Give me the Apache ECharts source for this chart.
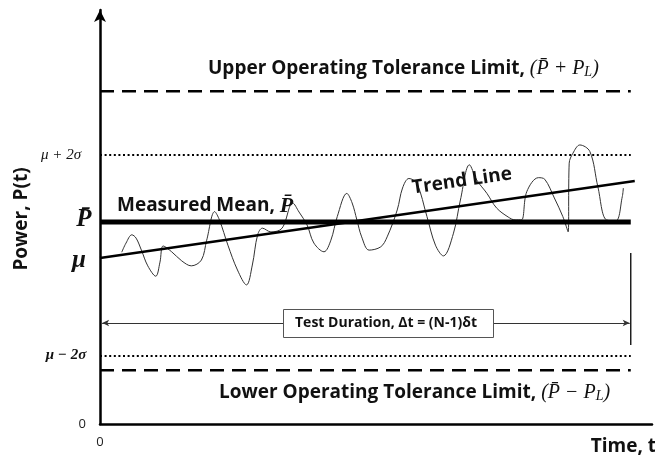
<!DOCTYPE html>
<html><head><meta charset="utf-8">
<script src="https://cdn.jsdelivr.net/npm/echarts@6/dist/echarts.min.js"></script>
<style>html,body{margin:0;padding:0;background:#fff}#c{width:655px;height:457px}</style>
</head><body><div id="c"></div>
<script>
// Time (arbitrary units) and power samples of the measured signal
const signalT = [4.1,4.9,6.0,6.8,7.8,9.0,10.5,11.3,11.9,13.5,15.4,17.2,19.1,20.1,21.6,22.5,24.1,25.9,27.6,28.7,29.7,30.6,32.2,34.3,36.3,37.5,39.0,40.3,42.2,43.5,44.7,46.5,47.5,48.4,49.3,50.7,52.9,54.1,56.0,57.0,58.2,59.7,61.6,63.2,64.7,66.6,67.9,69.6,71.0,72.9,74.7,76.9,78.2,79.4,80.4,82.6,83.8,85.6,87.2,88.2,88.4,89.1,90.4,92.3,93.8,95.4,97.2,98.4,98.6];
const signalP = [41.5,43.7,45.7,44.9,42.0,38.2,35.7,39.1,43.0,41.6,39.4,38.2,39.6,44.4,51.3,49.3,43.2,37.2,33.6,38.4,45.7,47.3,46.4,47.3,53.4,51.2,48.1,43.7,41.6,44.4,50.1,55.7,53.4,49.3,45.2,42.0,42.8,45.2,51.7,57.0,59.3,58.1,50.1,43.2,40.6,46.1,54.1,62.6,58.9,55.7,52.2,50.0,49.3,49.3,56.1,59.5,59.1,54.6,50.1,46.4,63.0,65.4,67.4,65.8,57.3,49.3,49.1,54.9,57.0];
// Reference levels
const refNames = ['upperLimit','plus2Sigma','measuredMean','minus2Sigma','lowerLimit'];
const refValues = [80.4, 65.0, 48.8, 16.4, 13.0];
const refTypes = ['dashed','dotted','solid','dotted','dashed'];
// Trend line end points
const trendT = [0, 100.75];
const trendP = [40.1, 58.7];
// Test duration
const testStartT = 0.4;
const testEndT = 100;
const durationLevel = 24.4;
const endMarkerP = [19.1, 41.3];
const xMax = 104, yMax = 100;

const chart = echarts.init(document.getElementById('c'), null, {renderer:'canvas'});
const sans = 'Open Sans';
const serif = 'Liberation Serif';
const black = '#000';

const refSeries = refNames.map((n, i) => {
  const t = refTypes[i];
  return {
    name: n, type: 'line', symbol: 'none', silent: true, z: t === 'solid' ? 4 : 2,
    data: [[0, refValues[i]], [testEndT, refValues[i]]],
    lineStyle: {
      color: black,
      width: t === 'solid' ? 5 : (t === 'dashed' ? 2.5 : 2),
      type: t === 'dashed' ? [14, 8] : (t === 'dotted' ? [2, 2.6] : 'solid')
    }
  };
});

const mathRich = {
  b: {fontFamily: sans, fontWeight: 'bold', fontSize: 19, fill: '#111'},
  m: {fontFamily: serif, fontStyle: 'italic', fontSize: 20, fill: '#111'},
  s: {fontFamily: serif, fontStyle: 'italic', fontSize: 14, fill: '#111', verticalAlign: 'bottom'}
};

const option = {
  animation: false,
  backgroundColor: '#fff',
  grid: {left: 100, right: 0, top: 10, bottom: 33},
  xAxis: {
    type: 'value', min: 0, max: xMax, interval: xMax,
    axisLine: {lineStyle: {color: black, width: 2.5}},
    axisTick: {show: false}, splitLine: {show: false},
    axisLabel: {formatter: v => v === 0 ? '0' : '', margin: 12, fontFamily: sans, fontSize: 13, color: '#222'}
  },
  yAxis: {
    type: 'value', min: 0, max: yMax, interval: yMax,
    axisLine: {show: true, symbol: ['none', 'arrow'], symbolSize: [9, 12], lineStyle: {color: black, width: 2.5}},
    axisTick: {show: false}, splitLine: {show: false},
    axisLabel: {formatter: v => v === 0 ? '0' : '', margin: 14, fontFamily: sans, fontSize: 13, color: '#222'}
  },
  series: [
    ...refSeries,
    {
      name: 'trend', type: 'line', symbol: 'none', silent: true, z: 5,
      data: trendT.map((t, i) => [t, trendP[i]]),
      lineStyle: {color: black, width: 2.5}
    },
    {
      name: 'signal', type: 'line', symbol: 'none', silent: true, z: 3, smooth: 0.35,
      data: signalT.map((t, i) => [t, signalP[i]]),
      lineStyle: {color: '#333', width: 1}
    },
    {
      name: 'endMarker', type: 'line', symbol: 'none', silent: true,
      data: endMarkerP.map(p => [testEndT, p]),
      lineStyle: {color: black, width: 1.3}
    },
    {
      name: 'duration', type: 'line', symbol: 'none', silent: true, data: [],
      markLine: {
        silent: true, symbol: ['arrow', 'arrow'], symbolSize: [5, 7],
        label: {show: false},
        lineStyle: {color: '#333', width: 1, type: 'solid'},
        data: [[{coord: [testStartT, durationLevel]}, {coord: [testEndT - 0.2, durationLevel]}]]
      }
    }
  ],
  graphic: [
    {type: 'text', x: 208, y: 69, style: {
      text: '{b|Upper Operating Tolerance Limit, }{m|(P\u0304 + P}{s|L}{m|)}',
      align: 'left', verticalAlign: 'middle', rich: mathRich}},
    {type: 'text', x: 219, y: 393, style: {
      text: '{b|Lower Operating Tolerance Limit, }{m|(P\u0304 \u2212 P}{s|L}{m|)}',
      align: 'left', verticalAlign: 'middle', rich: mathRich}},
    {type: 'text', x: 117, y: 206, z: 10, style: {
      text: '{b|Measured Mean, }{m|P\u0304}',
      align: 'left', verticalAlign: 'middle',
      rich: {
        b: {fontFamily: sans, fontWeight: 'bold', fontSize: 19, fill: '#111'},
        m: {fontFamily: serif, fontStyle: 'italic', fontWeight: 'bold', fontSize: 22, fill: '#111'}
      }}},
    {type: 'text', x: 462, y: 181, rotation: 0.1425, z: 10, style: {
      text: 'Trend Line', font: 'bold 19px ' + sans, fill: '#111', align: 'center', verticalAlign: 'middle'}},
    {type: 'text', x: 61, y: 155, style: {
      text: '\u03BC + 2\u03C3', font: 'italic 15px ' + serif, fill: '#111', align: 'center', verticalAlign: 'middle'}},
    {type: 'text', x: 84, y: 220, style: {
      text: 'P\u0304', font: 'italic bold 25px ' + serif, fill: '#111', align: 'center', verticalAlign: 'middle'}},
    {type: 'text', x: 79, y: 261, style: {
      text: '\u03BC', font: 'italic bold 25px ' + serif, fill: '#111', align: 'center', verticalAlign: 'middle'}},
    {type: 'text', x: 66, y: 355, style: {
      text: '\u03BC \u2212 2\u03C3', font: 'italic bold 15px ' + serif, fill: '#111', align: 'center', verticalAlign: 'middle'}},
    {type: 'text', x: 22, y: 219, rotation: Math.PI / 2, style: {
      text: 'Power, P(t)', font: 'bold 19px ' + sans, fill: '#111', align: 'center', verticalAlign: 'middle'}},
    {type: 'text', x: 656, y: 447, style: {
      text: 'Time, t', font: 'bold 19px ' + sans, fill: '#111', align: 'right', verticalAlign: 'middle'}},
    {type: 'rect', shape: {x: 283.5, y: 309.5, width: 210, height: 28}, z: 20,
      style: {fill: '#fff', stroke: '#555', lineWidth: 1}},
    {type: 'text', x: 386, y: 323.5, z: 21, style: {
      text: 'Test Duration, \u0394t = (N-1)\u03B4t', font: 'bold 14px ' + sans, fill: '#111', align: 'center', verticalAlign: 'middle'}}
  ]
};
chart.setOption(option);
</script>
</body></html>
